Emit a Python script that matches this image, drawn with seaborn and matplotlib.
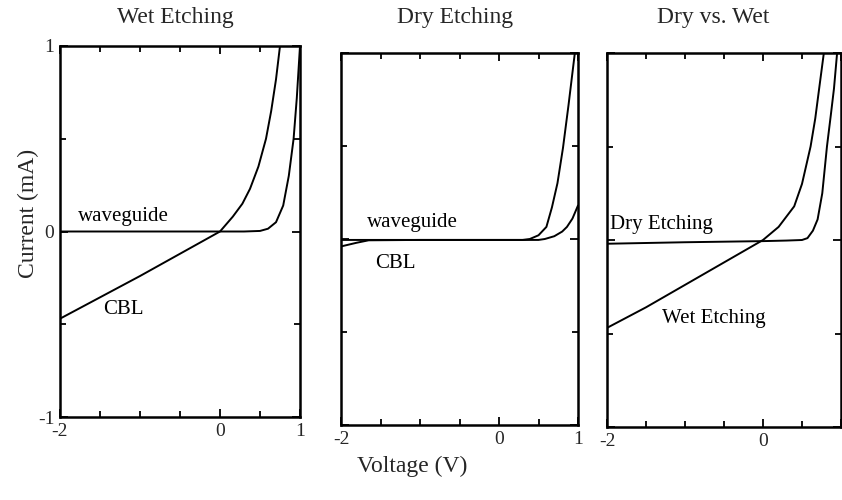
import numpy as np
import pandas as pd
import matplotlib
matplotlib.use("Agg")
import matplotlib.pyplot as plt
import seaborn as sns
from matplotlib.ticker import MultipleLocator

# ---------------- data ----------------
# Panel 1: Wet Etching
wet_cbl_v = [-2.0, -1.5, -1.0, -0.5, 0.0, 0.16, 0.28, 0.375, 0.48, 0.575, 0.64, 0.70, 0.75]
wet_cbl_i = [-0.47, -0.355, -0.24, -0.12, 0.0, 0.08, 0.15, 0.23, 0.35, 0.50, 0.65, 0.82, 1.0]
wet_wg_v = [-2.0, -1.0, 0.0, 0.3, 0.5, 0.6, 0.7, 0.79, 0.86, 0.92, 0.96, 1.0]
wet_wg_i = [0.0, 0.0, 0.0, 0.0, 0.003, 0.015, 0.05, 0.14, 0.30, 0.50, 0.72, 1.0]

# Panel 2: Dry Etching
dry_wg_v = [-2.0, -1.0, 0.0, 0.3, 0.5, 0.58, 0.7, 0.8, 0.86, 0.93, 1.0]
dry_wg_i = [-0.005, -0.005, -0.005, -0.005, -0.005, 0.0, 0.015, 0.04, 0.065, 0.11, 0.18]
dry_cbl_v = [-2.0, -1.8, -1.65, -1.0, 0.0, 0.3, 0.39, 0.5, 0.6, 0.67, 0.74, 0.81, 0.88, 0.96]
dry_cbl_i = [-0.04, -0.02, -0.007, -0.005, -0.005, -0.005, 0.0, 0.02, 0.065, 0.17, 0.30, 0.49, 0.72, 1.0]

# Panel 3: Dry vs. Wet
cmp_wet_v = [-2.0, -1.5, -1.0, -0.5, 0.0, 0.2, 0.4, 0.5, 0.61, 0.67, 0.72, 0.78]
cmp_wet_i = [-0.47, -0.36, -0.24, -0.12, 0.0, 0.07, 0.18, 0.30, 0.50, 0.65, 0.81, 1.0]
cmp_dry_v = [-2.0, -1.0, 0.0, 0.3, 0.5, 0.57, 0.64, 0.70, 0.76, 0.82, 0.87, 0.91, 0.95]
cmp_dry_i = [-0.02, -0.012, -0.006, -0.003, 0.0, 0.01, 0.05, 0.11, 0.25, 0.50, 0.67, 0.81, 1.0]

titles = ["Wet Etching", "Dry Etching", "Dry vs. Wet"]
x_ticks = [-2, 0, 1]
x_ticklabels = ["-2", "0", "1"]
y_ticks = [-1, 0, 1]
y_ticklabels = ["-1", "0", "1"]

# ---------------- style ----------------
sns.set_style("ticks")
plt.rcParams['font.family'] = ['Liberation Serif', 'DejaVu Serif']

fig = plt.figure(figsize=(8.42, 5.0), dpi=100)
W, H = 842.0, 500.0

def px_axes(x0, y0, x1, y1):
    return fig.add_axes([x0 / W, 1 - y1 / H, (x1 - x0) / W, (y1 - y0) / H])

ax1 = px_axes(60, 46, 300, 417)
ax2 = px_axes(341, 53, 578, 425)
ax3 = px_axes(607, 53, 841, 427)

def draw(ax, v, i):
    df = pd.DataFrame({"V": v, "I": i})
    sns.lineplot(data=df, x="V", y="I", ax=ax, color="black", linewidth=1.4,
                 sort=False, estimator=None)

draw(ax1, wet_cbl_v, wet_cbl_i)
draw(ax1, wet_wg_v, wet_wg_i)
draw(ax2, dry_wg_v, dry_wg_i)
draw(ax2, dry_cbl_v, dry_cbl_i)
draw(ax3, cmp_wet_v, cmp_wet_i)
draw(ax3, cmp_dry_v, cmp_dry_i)

for k, ax in enumerate([ax1, ax2, ax3]):
    ax.set_xlim(-2, 1)
    ax.set_ylim(-1, 1)
    ax.set_xlabel("")
    ax.set_ylabel("")
    for s in ax.spines.values():
        s.set_visible(True)
        s.set_linewidth(1.8)
        s.set_color("black")
    ax.set_xticks(x_ticks)
    ax.set_xticklabels(x_ticklabels if k < 2 else x_ticklabels[:2] + [""])
    ax.xaxis.set_minor_locator(MultipleLocator(0.5))
    ax.yaxis.set_major_locator(MultipleLocator(1))
    ax.yaxis.set_minor_locator(MultipleLocator(0.5))
    ax.set_yticks(y_ticks)
    if k == 0:
        ax.set_yticklabels(y_ticklabels)
    else:
        ax.set_yticklabels([])
    ax.tick_params(axis="both", which="both", direction="in", top=True, right=True,
                   color="black", width=1.3)
    ax.tick_params(axis="both", which="major", length=6, labelsize=14, pad=4)
    ax.tick_params(axis="both", which="minor", length=4)

# curve labels
lab = dict(fontsize=15, color="black")
ax1.text(-1.78, 0.03, "waveguide", va="bottom", ha="left", **lab)
ax1.text(-1.46, -0.42, "CBL", va="center", ha="left", **lab)
ax2.text(-1.67, 0.04, "waveguide", va="bottom", ha="left", **lab)
ax2.text(-1.57, -0.13, "CBL", va="center", ha="left", **lab)
ax3.text(-1.96, 0.03, "Dry Etching", va="bottom", ha="left", **lab)
ax3.text(-1.29, -0.42, "Wet Etching", va="center", ha="left", **lab)

# titles
fig.text(175 / W, 1 - 18 / H, titles[0], ha="center", va="center", fontsize=17)
fig.text(455 / W, 1 - 18 / H, titles[1], ha="center", va="center", fontsize=17)
fig.text(713 / W, 1 - 18 / H, titles[2], ha="center", va="center", fontsize=17)

# axis labels
fig.text(28 / W, 1 - 213 / H, "Current (mA)", rotation=90, ha="center", va="center", fontsize=17)
fig.text(412 / W, 1 - 466 / H, "Voltage (V)", ha="center", va="center", fontsize=17)

fig.savefig("out.png", dpi=100)
